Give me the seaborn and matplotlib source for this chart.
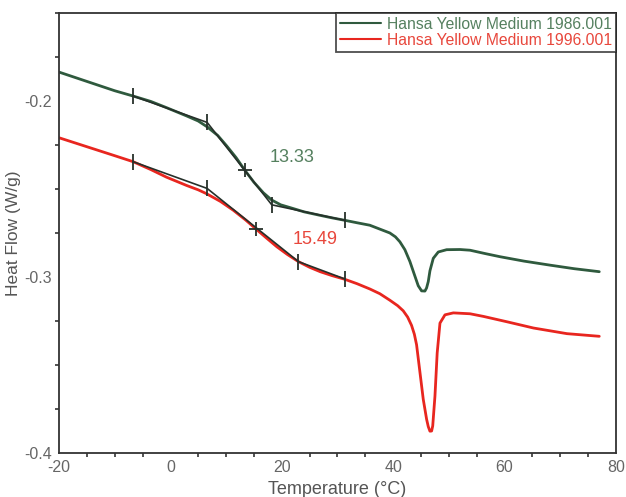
import numpy as np
import pandas as pd
import matplotlib
matplotlib.use("Agg")
import matplotlib.pyplot as plt
import seaborn as sns
from matplotlib.ticker import MultipleLocator

# ---- data ----
t_1986 = [-20, -15, -10, -6.7, -3.5, -0.7, 2.9, 5.0, 6.6, 8.5, 10.1, 11.8, 13.4, 15.0, 16.7,
          18.2, 19.8, 21.5, 24.0, 26.9, 29.0, 31.3, 33.5, 35.8, 37.6, 39.4, 40.4, 41.2,
          42.1, 43.0, 43.9, 44.5, 45.1, 45.7, 46.0, 46.3, 46.6, 47.2, 48.1, 49.6, 52.0,
          53.8, 56.5, 59.2, 63.5, 68.2, 72.5, 77.0]
hf_1986 = [-0.1836, -0.1889, -0.1942, -0.1972, -0.2003, -0.2038, -0.2085, -0.2114, -0.2147,
           -0.2196, -0.2255, -0.2322, -0.2395, -0.2462, -0.2522, -0.2563, -0.2590, -0.2606,
           -0.2630, -0.2650, -0.2664, -0.2678, -0.2692, -0.2706, -0.2728, -0.2750, -0.2772,
           -0.2800, -0.2845, -0.2912, -0.2995, -0.3050, -0.3079, -0.3080, -0.3062, -0.3026,
           -0.2965, -0.2894, -0.2858, -0.2845, -0.2844, -0.2848, -0.2867, -0.2885, -0.2910,
           -0.2933, -0.2953, -0.2970]

t_1996 = [-20, -15, -10, -6.7, -3.5, -0.7, 2.9, 5.0, 6.5, 9.0, 11.3, 13.5, 15.5, 17.3, 19.1,
          21.0, 23.0, 25.0, 26.9, 29.0, 31.3, 33.5, 35.8, 37.6, 39.4, 40.8, 41.8, 42.6,
          43.3, 43.8, 44.2, 44.8, 45.4, 46.0, 46.3, 46.6, 46.9, 47.1, 47.5, 47.9, 48.4,
          49.3, 50.8, 53.8, 56.2, 60.5, 65.2, 71.2, 77.0]
hf_1996 = [-0.2209, -0.2260, -0.2311, -0.2345, -0.2390, -0.2433, -0.2480, -0.2505, -0.2527,
           -0.2571, -0.2621, -0.2676, -0.2731, -0.2780, -0.2828, -0.2872, -0.2913, -0.2945,
           -0.2970, -0.2992, -0.3013, -0.3038, -0.3068, -0.3095, -0.3132, -0.3163, -0.3192,
           -0.3228, -0.3275, -0.3325, -0.3385, -0.3540, -0.3695, -0.3808, -0.3850, -0.3876,
           -0.3875, -0.3846, -0.3677, -0.3432, -0.3262, -0.3215, -0.3204, -0.3209, -0.3224,
           -0.3255, -0.3290, -0.3322, -0.3337]

# glass-transition analysis points (tangent construction)
tg_t_1986 = [-6.7, 6.6, 18.2, 31.3]
tg_hf_1986 = [-0.1972, -0.2122, -0.2590, -0.2678]
mid_1986 = (13.4, -0.2395)
tg_t_1996 = [-6.7, 6.6, 23.0, 31.3]
tg_hf_1996 = [-0.2345, -0.2497, -0.2913, -0.3011]
mid_1996 = (15.4, -0.2725)

labels = ["Hansa Yellow Medium 1986.001", "Hansa Yellow Medium 1996.001"]
tg_values = ["13.33", "15.49"]

GREEN = "#2f5a3e"
RED = "#e8261f"
DARK = "#26302a"
GREEN_TXT = "#55805f"
RED_TXT = "#e8473c"

sns.set_style("white")
plt.rcParams["font.family"] = ["Liberation Sans", "DejaVu Sans"]

fig = plt.figure(figsize=(6.26, 4.97), dpi=100)
ax = fig.add_axes([0.0942, 0.0885, 0.8898, 0.8855])

df1 = pd.DataFrame({"T": t_1986, "HF": hf_1986})
df2 = pd.DataFrame({"T": t_1996, "HF": hf_1996})

sns.lineplot(data=df1, x="T", y="HF", ax=ax, color=GREEN, lw=2.0, label=labels[0], zorder=2)
sns.lineplot(data=df2, x="T", y="HF", ax=ax, color=RED, lw=2.0, label=labels[1], zorder=2)

# tangent construction lines
sns.lineplot(x=tg_t_1986, y=tg_hf_1986, ax=ax, color=DARK, lw=1.2, sort=False, zorder=3)
sns.lineplot(x=tg_t_1996, y=tg_hf_1996, ax=ax, color=DARK, lw=1.2, sort=False, zorder=3)

# tick markers
ax.plot(tg_t_1986, tg_hf_1986, ls="none", marker="|", ms=11, mew=1.3, color=DARK, zorder=4)
ax.plot(tg_t_1996, tg_hf_1996, ls="none", marker="|", ms=11, mew=1.3, color=DARK, zorder=4)
ax.plot([mid_1986[0]], [mid_1986[1]], ls="none", marker="+", ms=10, mew=1.3, color=DARK, zorder=4)
ax.plot([mid_1996[0]], [mid_1996[1]], ls="none", marker="+", ms=10, mew=1.3, color=DARK, zorder=4)

ax.text(21.9, -0.2322, tg_values[0], color=GREEN_TXT, fontsize=13, ha="center", va="center")
ax.text(26.0, -0.2785, tg_values[1], color=RED_TXT, fontsize=13, ha="center", va="center")

ax.set_xlim(-20, 80)
ax.set_ylim(-0.4, -0.15)
ax.xaxis.set_major_locator(MultipleLocator(20))
ax.xaxis.set_minor_locator(MultipleLocator(5))
ax.yaxis.set_major_locator(MultipleLocator(0.1))
ax.yaxis.set_minor_locator(MultipleLocator(0.025))
ax.tick_params(which="both", direction="out", colors="#333333", labelcolor="#666666",
               labelsize=11.5, pad=1)
ax.tick_params(which="major", length=4, width=1.2)
ax.tick_params(which="minor", length=3, width=1.2, bottom=True, left=True)
ax.tick_params(axis="both", which="both", top=False, right=False)
ax.set_yticks([-0.4, -0.3, -0.2])
ax.set_yticklabels(["-0.4", "-0.3", "-0.2"])
ax.set_xticks([-20, 0, 20, 40, 60, 80])
ax.set_xticklabels(["-20", "0", "20", "40", "60", "80"])

for s in ax.spines.values():
    s.set_color("#333333")
    s.set_linewidth(1.3)

ax.set_xlabel("Temperature (°C)", fontsize=13, color="#555555", labelpad=4)
ax.set_ylabel("Heat Flow (W/g)", fontsize=12.5, color="#555555", labelpad=2)

leg = ax.legend(loc="upper right", borderaxespad=0, fontsize=11.3, frameon=True,
                fancybox=False, handlelength=2.6, handletextpad=0.4,
                borderpad=0.25, labelspacing=0.05)
leg.get_frame().set_edgecolor("#222222")
leg.get_frame().set_linewidth(1.3)
for txt, c in zip(leg.get_texts(), [GREEN_TXT, RED_TXT]):
    txt.set_color(c)
for h in leg.get_lines():
    h.set_linewidth(1.5)

fig.savefig("out.png", dpi=100)
